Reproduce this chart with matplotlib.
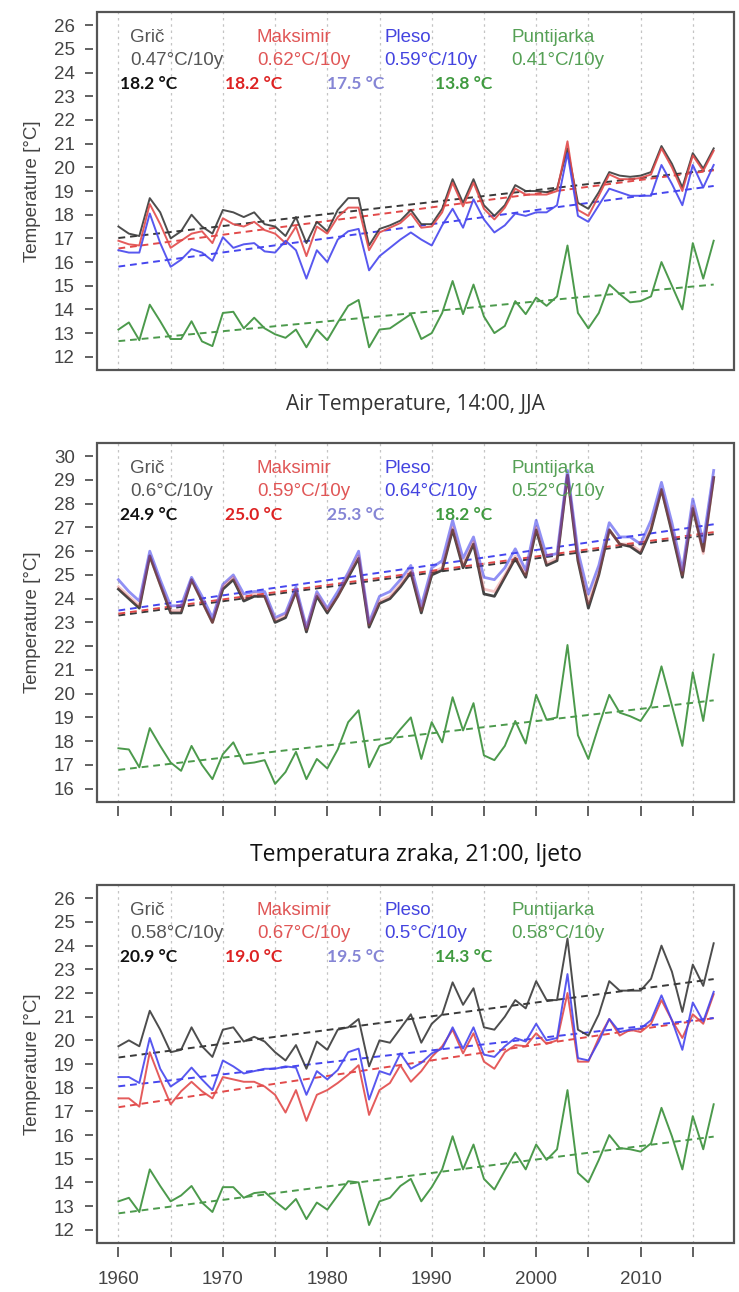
import matplotlib.pyplot as plt
import numpy as np
from matplotlib.patches import Rectangle

years = list(range(1960, 2018))
stations = ['Grič', 'Maksimir', 'Pleso', 'Puntijarka']

# panel 1 (title not visible in the crop)
p1_gric = [17.5, 17.2, 17.1, 18.7, 18.1, 17.0, 17.3, 18.0, 17.5, 17.2,
           18.2, 18.1, 17.9, 18.1, 17.6, 17.5, 17.1, 17.9, 16.8, 17.7,
           17.3, 18.2, 18.7, 18.7, 16.7, 17.4, 17.55, 17.75, 18.2, 17.6,
           17.6, 18.25, 19.5, 18.5, 19.5, 18.4, 17.95, 18.4, 19.25, 19.0,
           19.0, 18.95, 19.1, 20.8, 18.5, 18.25, 18.95, 19.8, 19.65, 19.6,
           19.65, 19.8, 20.9, 20.15, 19.15, 20.6, 19.95, 20.8]
p1_maksimir = [16.9, 16.75, 16.7, 18.45, 17.6, 16.6, 16.9, 17.2, 17.3, 16.8,
               17.85, 17.6, 17.5, 17.7, 17.35, 17.2, 16.8, 17.5, 16.25, 17.5,
               17.2, 17.9, 18.3, 18.3, 16.5, 17.25, 17.45, 17.65, 18.05, 17.45,
               17.5, 18.1, 19.35, 18.35, 19.35, 18.25, 17.8, 18.3, 19.1, 18.85,
               18.85, 18.85, 19.0, 21.1, 18.2, 17.95, 18.8, 19.7, 19.5, 19.5,
               19.55, 19.7, 20.8, 20.0, 19.0, 20.5, 19.85, 20.7]
p1_pleso = [16.5, 16.4, 16.4, 18.05, 16.8, 15.8, 16.1, 16.55, 16.4, 16.05,
            17.05, 16.6, 16.75, 16.8, 16.45, 16.4, 16.9, 16.5, 15.3, 16.5,
            16.0, 16.95, 17.3, 17.4, 15.65, 16.25, 16.6, 16.95, 17.25, 16.95,
            16.7, 17.55, 18.25, 17.45, 18.65, 17.8, 17.25, 17.55, 18.05, 17.95,
            18.1, 18.1, 18.4, 20.6, 17.95, 17.7, 18.4, 19.1, 18.95, 18.8,
            18.8, 18.8, 20.1, 19.3, 18.4, 20.1, 19.15, 20.1]
p1_puntijarka = [13.15, 13.45, 12.7, 14.2, 13.5, 12.75, 12.75, 13.5, 12.65, 12.45,
                 13.85, 13.9, 13.2, 13.65, 13.2, 12.95, 12.8, 13.15, 12.4, 13.15,
                 12.7, 13.45, 14.15, 14.4, 12.4, 13.15, 13.2, 13.5, 13.8, 12.75,
                 13.0, 13.85, 15.2, 13.8, 15.05, 13.7, 13.0, 13.3, 14.35, 13.8,
                 14.5, 14.15, 14.55, 16.7, 13.85, 13.2, 13.85, 15.05, 14.65, 14.3,
                 14.35, 14.55, 16.0, 15.0, 14.0, 16.8, 15.3, 16.9]
p1_trends = ['0.47°C/10y', '0.62°C/10y', '0.59°C/10y', '0.41°C/10y']
p1_means = ['18.2 °C', '18.2 °C', '17.5 °C', '13.8 °C']

# panel 2: 14:00, JJA
p2_gric = [24.4, 24.0, 23.6, 25.8, 24.6, 23.4, 23.4, 24.8, 23.9, 23.0,
           24.4, 24.8, 23.9, 24.1, 24.1, 23.0, 23.2, 24.3, 22.6, 24.1,
           23.4, 24.1, 24.9, 25.7, 22.8, 23.8, 24.0, 24.5, 25.1, 23.4,
           25.0, 25.2, 26.9, 25.3, 26.3, 24.2, 24.1, 24.9, 25.7, 24.9,
           26.9, 25.4, 25.6, 29.2, 25.6, 23.6, 25.0, 26.9, 26.3, 26.2,
           25.9, 26.9, 28.6, 26.8, 24.9, 27.8, 26.0, 29.1]
p2_maksimir = [24.5, 24.1, 23.7, 25.8, 24.6, 23.5, 23.5, 24.8, 23.9, 23.0,
               24.5, 24.9, 24.0, 24.2, 24.1, 23.1, 23.3, 24.3, 22.7, 24.2,
               23.5, 24.1, 25.0, 25.8, 22.9, 23.9, 24.1, 24.6, 25.2, 23.5,
               25.1, 25.3, 27.0, 25.4, 26.4, 24.4, 24.3, 25.0, 25.8, 25.0,
               27.0, 25.5, 25.7, 29.2, 25.7, 23.8, 25.1, 26.9, 26.3, 26.3,
               26.0, 27.0, 28.6, 26.9, 25.0, 27.9, 25.9, 29.1]
p2_pleso = [24.8, 24.3, 23.9, 26.0, 24.8, 23.7, 23.7, 24.9, 24.1, 23.2,
            24.6, 25.0, 24.2, 24.3, 24.3, 23.2, 23.4, 24.5, 22.8, 24.3,
            23.6, 24.3, 25.1, 26.0, 23.0, 24.1, 24.3, 24.8, 25.4, 23.7,
            25.3, 25.6, 27.3, 25.7, 26.6, 24.9, 24.8, 25.3, 26.1, 25.2,
            27.3, 25.8, 25.9, 29.4, 26.0, 24.2, 25.4, 27.2, 26.6, 26.6,
            26.3, 27.3, 28.9, 27.2, 25.2, 28.2, 26.4, 29.4]
p2_puntijarka = [17.7, 17.65, 16.9, 18.55, 17.8, 17.1, 16.75, 17.8, 17.0, 16.4,
                 17.45, 17.95, 17.05, 17.1, 17.2, 16.2, 16.7, 17.55, 16.4, 17.25,
                 16.85, 17.65, 18.8, 19.3, 16.9, 17.8, 17.95, 18.5, 19.0, 17.25,
                 18.8, 17.95, 19.85, 18.45, 19.6, 17.4, 17.2, 17.8, 18.85, 17.9,
                 19.95, 18.9, 19.0, 22.05, 18.25, 17.25, 18.65, 19.95, 19.2, 19.05,
                 18.85, 19.5, 21.15, 19.5, 17.8, 20.9, 18.85, 21.65]
p2_trends = ['0.6°C/10y', '0.59°C/10y', '0.64°C/10y', '0.52°C/10y']
p2_means = ['24.9 °C', '25.0 °C', '25.3 °C', '18.2 °C']

# panel 3: 21:00, ljeto
p3_gric = [19.75, 20.0, 19.75, 21.25, 20.45, 19.5, 19.6, 20.55, 19.75, 19.3,
           20.45, 20.55, 19.95, 20.15, 19.95, 19.5, 19.15, 19.8, 18.8, 19.95,
           19.6, 20.45, 20.55, 20.9, 18.9, 20.0, 19.9, 20.5, 21.1, 19.9,
           20.7, 21.1, 22.45, 21.5, 22.2, 20.55, 20.45, 21.0, 21.7, 21.35,
           22.5, 21.7, 21.7, 24.3, 20.45, 20.2, 21.1, 22.5, 22.1, 22.1,
           22.1, 22.6, 24.0, 22.9, 21.2, 23.2, 22.3, 24.1]
p3_maksimir = [17.55, 17.55, 17.2, 19.5, 18.35, 17.3, 17.85, 18.25, 17.85, 17.55,
               18.45, 18.35, 18.25, 18.25, 18.05, 17.7, 16.95, 17.9, 16.6, 17.7,
               17.9, 18.2, 18.55, 18.95, 16.85, 17.9, 18.2, 18.95, 18.25, 18.7,
               19.3, 19.75, 20.45, 19.45, 20.3, 19.1, 18.8, 19.5, 19.8, 19.75,
               20.3, 19.85, 20.0, 22.0, 19.1, 19.1, 20.1, 20.9, 20.2, 20.45,
               20.35, 20.7, 21.7, 20.85, 20.1, 21.1, 20.7, 21.95]
p3_pleso = [18.45, 18.45, 18.2, 20.1, 18.8, 18.05, 18.35, 18.85, 18.35, 17.9,
            19.15, 18.9, 18.6, 18.7, 18.8, 18.8, 18.9, 18.85, 17.7, 18.7,
            18.35, 18.75, 19.5, 19.65, 17.5, 18.7, 18.55, 19.45, 18.8, 19.05,
            19.45, 19.65, 20.55, 19.65, 20.55, 19.4, 19.3, 19.75, 20.1, 19.95,
            20.7, 20.0, 20.1, 22.8, 19.25, 19.15, 19.95, 20.9, 20.35, 20.45,
            20.5, 20.85, 21.9, 20.85, 19.6, 21.6, 20.8, 22.05]
p3_puntijarka = [13.2, 13.35, 12.75, 14.55, 13.85, 13.2, 13.45, 13.85, 13.15, 12.75,
                 13.8, 13.8, 13.35, 13.55, 13.6, 13.2, 12.85, 13.3, 12.45, 13.15,
                 12.85, 13.45, 14.05, 14.0, 12.2, 13.2, 13.35, 13.85, 14.15, 13.2,
                 13.8, 14.55, 15.95, 14.55, 15.6, 14.15, 13.7, 14.5, 15.25, 14.55,
                 15.6, 14.95, 15.4, 17.9, 14.4, 14.0, 14.95, 16.0, 15.45, 15.4,
                 15.3, 15.65, 17.15, 15.95, 14.55, 16.8, 15.4, 17.3]
p3_trends = ['0.58°C/10y', '0.67°C/10y', '0.5°C/10y', '0.58°C/10y']
p3_means = ['20.9 °C', '19.0 °C', '19.5 °C', '14.3 °C']

line_colors = ['#3a3a3a', '#e24a4a', '#4646ee', '#4c9a4c']
name_colors = ['#555555', '#e05656', '#4444e0', '#55a055']
mean_colors = ['#111111', '#dd2222', '#8585d5', '#3f9a3f']
name_x = [0.052, 0.251, 0.451, 0.651]
mean_x = [0.036, 0.201, 0.361, 0.531]


def draw_panel(ax, series, trends, means, lo, hi, title=None, ticks=True, labels=False,
               lw=1.4, alphas=(0.9, 0.9, 0.9), order=(0, 1, 2)):
    for s in series:
        assert len(s) == len(years)
    # trend lines first, then the yearly values
    for vals, c in zip(series, line_colors):
        coef = np.polyfit(years, vals, 1)
        ax.plot(years, np.polyval(coef, years), color=c, lw=1.4, dashes=(3.5, 2.5))
    ax.plot(years, series[3], color=line_colors[3], lw=1.4)
    for i in order:
        ax.plot(years, series[i], color=line_colors[i], lw=lw, alpha=alphas[i])

    ax.set_xlim(1957.95, 2018.95)
    ax.set_ylim(lo - 0.56, hi + 0.56)
    ax.set_yticks(range(lo, hi + 1))
    ax.set_xticks(range(1960, 2016, 5))
    if labels:
        ax.set_xticklabels([str(y) if y % 10 == 0 else '' for y in range(1960, 2016, 5)])
    else:
        ax.set_xticklabels([])
    ax.grid(axis='x', color='#c4c4c4', lw=0.9, linestyle=(0, (2, 3)))

    for side in ['left', 'bottom']:
        ax.spines[side].set_position(('outward', 3))
    for sp in ax.spines.values():
        sp.set_visible(False)
    ax.add_patch(Rectangle((0, 0), 1, 1, transform=ax.transAxes, fill=False,
                           ec='#555555', lw=1.6, clip_on=False, zorder=5))
    ax.tick_params(axis='y', length=6, width=1.3, color='#555555', pad=7,
                   labelsize=13.5, labelcolor='#444444')
    ax.tick_params(axis='x', length=7, width=1.3, color='#555555', pad=10,
                   labelsize=13.5, labelcolor='#444444', bottom=ticks)
    ax.set_ylabel('Temperature [°C]', fontsize=13.5, color='#444444')
    ax.yaxis.set_label_coords(-0.088, 0.5)

    for i in range(4):
        ax.text(name_x[i], 0.93, stations[i], transform=ax.transAxes, color=name_colors[i],
                fontsize=13.5, va='center', ha='left', family='Liberation Sans')
        ax.text(name_x[i], 0.864, trends[i], transform=ax.transAxes, color=name_colors[i],
                fontsize=13.5, va='center', ha='left', family='Liberation Sans')
        ax.text(mean_x[i], 0.799, means[i], transform=ax.transAxes, color=mean_colors[i],
                fontsize=12.5, va='center', ha='left', family='Lato', fontweight='bold')
    if title:
        ax.text(0.5, title[1], title[0], transform=ax.transAxes, ha='center', va='center',
                fontsize=title[2], color=title[3], family='Open Sans')


plt.rcParams['font.family'] = ['Liberation Sans', 'DejaVu Sans']
fig = plt.figure(figsize=(7.39, 12.92), dpi=100)
ax1 = fig.add_axes([0.1313, 0.7136, 0.862, 0.2771])
ax2 = fig.add_axes([0.1313, 0.3793, 0.862, 0.2779])
ax3 = fig.add_axes([0.1313, 0.0379, 0.862, 0.2771])

draw_panel(ax1, [p1_gric, p1_maksimir, p1_pleso, p1_puntijarka], p1_trends, p1_means,
           12, 26, ticks=False)
# in the 14:00 panel the three city lines sit on top of each other (dark purple)
draw_panel(ax2, [p2_gric, p2_maksimir, p2_pleso, p2_puntijarka], p2_trends, p2_means,
           16, 30, title=('Air Temperature, 14:00, JJA', 1.106, 15, '#333333'),
           lw=2.0, alphas=(0.95, 0.3, 0.6), order=(0, 2, 1))
draw_panel(ax3, [p3_gric, p3_maksimir, p3_pleso, p3_puntijarka], p3_trends, p3_means,
           12, 26, title=('Temperatura zraka, 21:00, ljeto', 1.084, 16.5, '#111111'),
           labels=True)

fig.savefig('out.png', dpi=100)
